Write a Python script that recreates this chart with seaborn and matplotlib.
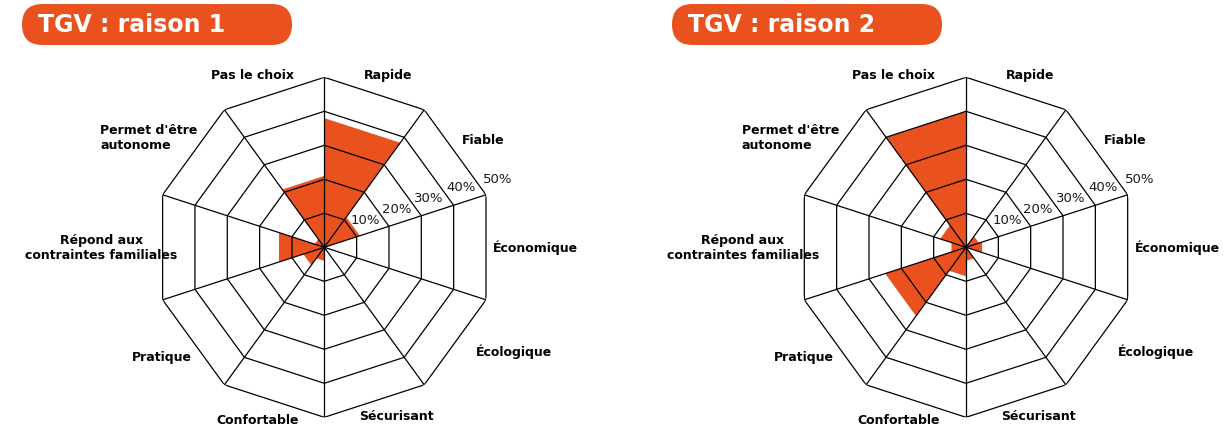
import numpy as np
import matplotlib
matplotlib.use('Agg')
from matplotlib import pyplot as plt
from matplotlib.patches import FancyBboxPatch
from matplotlib.transforms import IdentityTransform
import seaborn as sns

# categories clockwise from the top spoke
categories = ['Rapide', 'Fiable', 'Économique', 'Écologique', 'Sécurisant',
              'Confortable', 'Pratique', 'Répond aux\ncontraintes familiales',
              "Permet d'être\nautonome", 'Pas le choix']
raison1 = [38, 11, 0, 0, 1, 4, 6.5, 14, 3, 21]
raison2 = [0, 4, 5, 0, 4, 8.5, 25, 4.5, 8, 40]
titles = ['TGV : raison 1', 'TGV : raison 2']
rings = [10, 20, 30, 40, 50]
ring_labels = ['10%', '20%', '30%', '40%', '50%']

# where the texts sit (angle in degrees, radius in data units)
label_pos = [(20.4, 54.0), (56.1, 56.4), (90, 62.1), (118.9, 63.8), (156.9, 54.0),
             (201.2, 54.6), (235.8, 57.6), (269.7, 65.6), (302, 60.9), (337.3, 54.9)]
ring_label_pos = [(57.4, 14.4), (62.1, 24.0), (65.1, 33.8), (66.4, 44.0), (68.5, 54.8)]

orange = '#E9511F'

sns.set_theme(style='white')
plt.rcParams['font.family'] = ['DejaVu Sans']
plt.rcParams['text.color'] = 'black'

fig = plt.figure(figsize=(12.29, 4.32), dpi=100)


def radar(ax, values):
	n = len(categories)
	step = 2 * np.pi / n
	ax.set_theta_zero_location('N')
	ax.set_theta_direction(-1)
	ax.set_ylim(0, 50)
	ax.grid(False)
	ax.spines['polar'].set_visible(False)
	ax.set_xticks([])
	ax.set_yticks([])
	ax.patch.set_alpha(0)

	# one wedge per category, straight outer edge
	for i, v in enumerate(values):
		if v <= 0:
			continue
		t0, t1 = i * step, (i + 1) * step
		ax.fill([t0, t0, t1], [0, v, v], color=orange, lw=0, zorder=1)

	# decagon rings and spokes
	th = np.arange(n + 1) * step
	for r in rings:
		ax.plot(th, [r] * len(th), color='black', lw=0.9, zorder=2)
	for t in th[:-1]:
		ax.plot([t, t], [0, 50], color='black', lw=0.9, zorder=2)

	for lab, (a, r) in zip(categories, label_pos):
		ax.text(np.deg2rad(a), r, lab, ha='center', va='center', fontsize=9,
				fontweight='bold', color='black',
				multialignment='center' if 'Répond' in lab else 'left')
	for lab, (a, r) in zip(ring_labels, ring_label_pos):
		ax.text(np.deg2rad(a), r, lab, ha='center', va='center', fontsize=9.5,
				color='#1a1a1a')


centers = [(324.3, 184.7), (966.0, 184.7)]
R = 170.0
for k, vals in enumerate([raison1, raison2]):
	cx, cy = centers[k]
	ax = fig.add_axes([(cx - R) / 1229, (cy - R) / 432, 2 * R / 1229, 2 * R / 432], projection='polar')
	radar(ax, vals)

# title banners (pixel coordinates)
banners = [(22, 292), (672, 942)]
for (x0, x1), t in zip(banners, titles):
	box = FancyBboxPatch((x0, 432 - 45), x1 - x0, 41,
						 boxstyle='round,pad=0,rounding_size=20.5',
						 fc=orange, ec='none', transform=IdentityTransform())
	fig.add_artist(box)
	fig.text((x0 + 16) / 1229, (432 - 25) / 432, t, color='white', fontsize=17,
			 fontweight='bold', ha='left', va='center')

plt.savefig('out.png', dpi=100)
